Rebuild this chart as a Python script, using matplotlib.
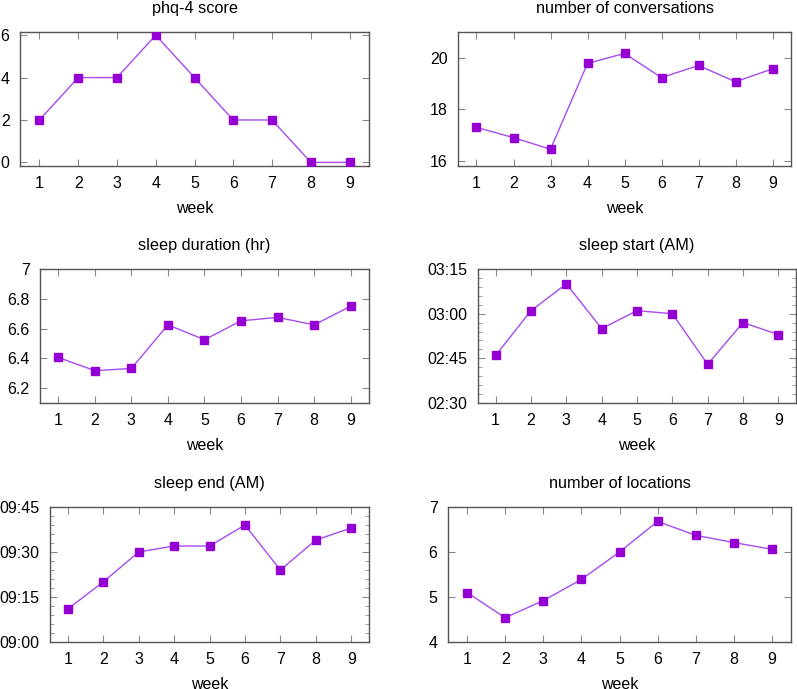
import matplotlib
matplotlib.use("Agg")
import matplotlib.pyplot as plt
from matplotlib.ticker import MultipleLocator, FuncFormatter

plt.rcParams['font.family'] = ['Liberation Sans', 'DejaVu Sans']

weeks = [1, 2, 3, 4, 5, 6, 7, 8, 9]

phq4 = [2, 4, 4, 6, 4, 2, 2, 0, 0]
conversations = [17.3, 16.9, 16.45, 19.78, 20.17, 19.23, 19.7, 19.07, 19.57]
sleep_duration = [6.406, 6.317, 6.332, 6.625, 6.525, 6.652, 6.675, 6.625, 6.75]
# clock times, plotted as minutes after midnight
sleep_start = ["02:46", "03:01", "03:10", "02:55", "03:01", "03:00", "02:43", "02:57", "02:53"]
sleep_end = ["09:11", "09:20", "09:30", "09:32", "09:32", "09:39", "09:24", "09:34", "09:38"]
locations = [5.10, 4.54, 4.92, 5.39, 6.0, 6.68, 6.37, 6.21, 6.06]


def to_min(s):
    h, m = s.split(":")
    return int(h) * 60 + int(m)


def fmt_time(v, pos):
    v = int(round(v))
    return f"{v // 60:02d}:{v % 60:02d}"


mark_color = "#9400d3"
line_color = "#a64bf0"

fig = plt.figure(figsize=(7.97, 6.89), dpi=100)

W, H = 797, 689


def add_ax(l, t, r, b):
    return fig.add_axes([l / W, 1 - b / H, (r - l) / W, (b - t) / H])


panels = [
    # (box, title, data, ylim, yticks, minor step, time labels)
    ((20, 32, 369, 166), "phq-4 score", phq4, (-0.17, 6.15), [0, 2, 4, 6], None, False),
    ((458, 32, 791, 166), "number of conversations", conversations, (15.8, 21.0), [16, 18, 20], None, False),
    ((40, 269, 369, 403), "sleep duration (hr)", sleep_duration, (6.1, 7.0), [6.2, 6.4, 6.6, 6.8, 7.0], None, False),
    ((478, 269, 796, 403), "sleep start (AM)", [to_min(s) for s in sleep_start], (150, 195), [150, 165, 180, 195], 3, True),
    ((50, 507, 369, 642), "sleep end (AM)", [to_min(s) for s in sleep_end], (540, 585), [540, 555, 570, 585], 3, True),
    ((448, 507, 791, 642), "number of locations", locations, (4, 7), [4, 5, 6, 7], None, False),
]

for box, title, vals, ylim, yticks, minor, timefmt in panels:
    ax = add_ax(*box)
    ax.plot(weeks, vals, color=line_color, lw=1.0, zorder=2)
    ax.plot(weeks, vals, ls="none", marker="s", ms=6.2, color=mark_color, zorder=3)
    ax.set_xlim(0.5, 9.5)
    ax.set_ylim(*ylim)
    ax.set_xticks(weeks)
    ax.set_yticks(yticks)
    if timefmt:
        ax.yaxis.set_major_formatter(FuncFormatter(fmt_time))
    else:
        ax.yaxis.set_major_formatter(FuncFormatter(lambda v, p: f"{v:g}"))
    if minor:
        ax.yaxis.set_minor_locator(MultipleLocator(minor))
    ax.tick_params(direction="in", top=True, right=True, length=5, width=0.8,
                   color="#888888", labelsize=11.5, pad=7.5)
    ax.tick_params(which="minor", direction="in", left=True, right=True, length=3,
                   width=0.6, color="#888888")
    for sp in ax.spines.values():
        sp.set_color("#555555")
        sp.set_linewidth(1.0)
    ax.set_title(title, fontsize=11.7, pad=14)
    ax.set_xlabel("week", fontsize=11.5, labelpad=7)

fig.savefig("out.png", dpi=100)
